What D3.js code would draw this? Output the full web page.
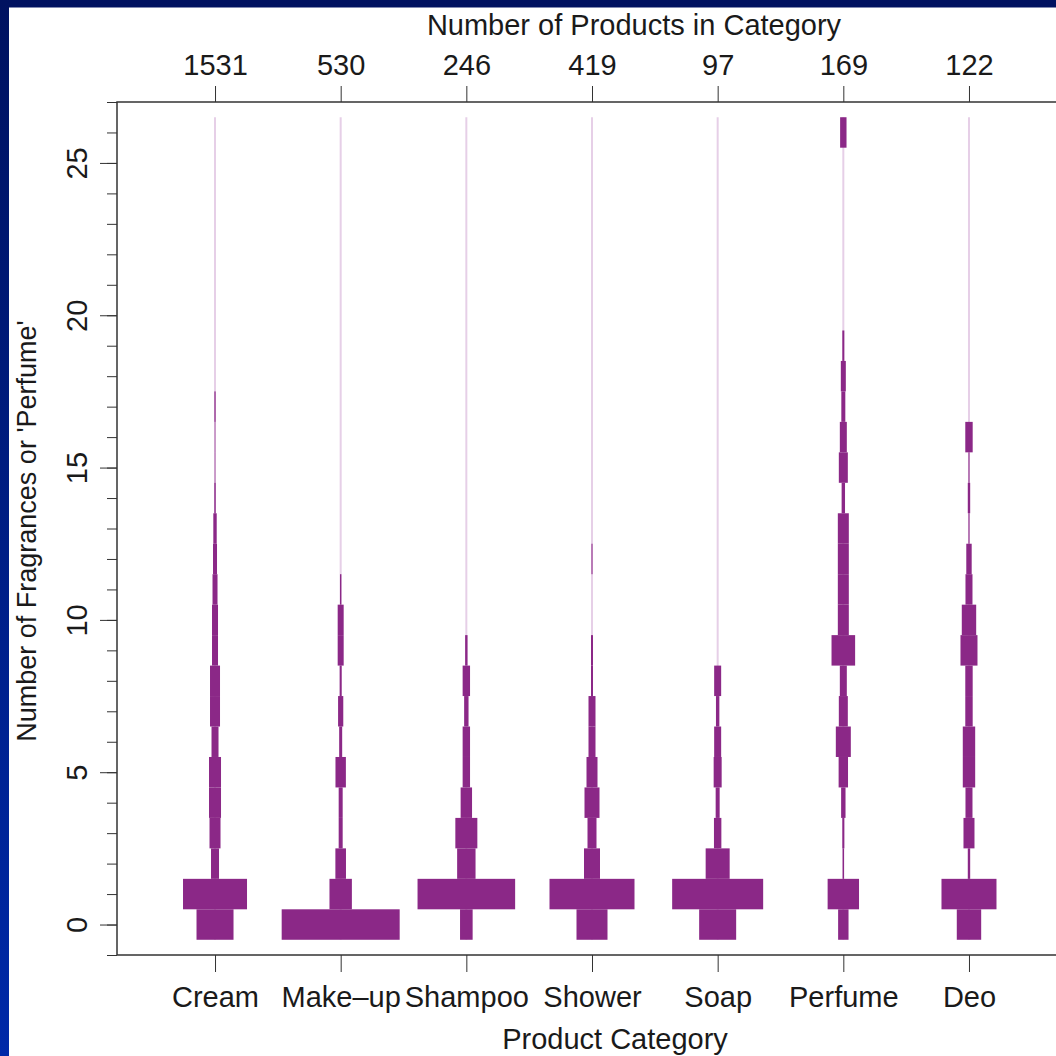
<!DOCTYPE html>
<html>
<head>
<meta charset="utf-8">
<script src="https://cdn.jsdelivr.net/npm/d3@7"></script>
<style>
  body { margin: 0; }
  svg text { font-family: "Liberation Sans", Arial, Helvetica, sans-serif; }
</style>
</head>
<body>
<div id="chart"></div>
<script>
// categories and the count of products in each
const categories = ["Cream", "Make\u2013up", "Shampoo", "Shower", "Soap", "Perfume", "Deo"];
const productCounts = [1531, 530, 246, 419, 97, 169, 122];

// % of products in the category with 0, 1, 2, ... fragrances (index = number of fragrances)
const creamShare   = [18.5, 32.0, 4.0, 5.5, 6.0, 6.0, 3.5, 5.0, 5.0, 3.0, 3.0, 2.5, 2.0, 1.7, 0.7, 0.3, 0.3, 0.6];
const makeupShare  = [59.0, 11.2, 5.3, 2.0, 2.0, 5.2, 1.5, 2.6, 1.0, 3.0, 3.0, 0.7];
const shampooShare = [6.3, 48.8, 9.2, 11.0, 5.7, 3.7, 3.7, 2.2, 3.7, 1.2];
const showerShare  = [15.5, 42.5, 8.0, 4.5, 7.5, 5.5, 3.5, 3.5, 1.0, 1.0, 0, 0, 0.5];
const soapShare    = [18.5, 45.5, 12.0, 3.7, 2.0, 4.0, 3.5, 1.7, 3.5];
const perfumeShare = [5.2, 15.7, 0.7, 1.0, 2.2, 4.7, 7.5, 4.5, 3.5, 11.8, 5.5, 5.5, 5.5, 5.5, 1.7, 4.5, 3.5, 2.0, 2.5, 1.0, 0, 0, 0, 0, 0, 0, 3.2];
const deoShare     = [12.2, 27.5, 1.2, 5.5, 3.5, 6.2, 6.2, 3.7, 3.7, 8.5, 7.2, 3.5, 2.7, 0.5, 1.2, 0.5, 3.7];

const yLabelTicks = [0, 5, 10, 15, 20, 25];
const maxFragrances = 26;

const shares = [creamShare, makeupShare, shampooShare, showerShare, soapShare, perfumeShare, deoShare];

const width = 1056, height = 1056;
const plot = {left: 117, top: 102, right: 1067, bottom: 955};
const fontSize = 29;
const purple = "#8b2887";
const textColor = "#1a1a1a";

let svg = d3.select("#chart")
  .append("svg")
  .attr("width", width)
  .attr("height", height);

// slide background + white page
let grad = svg.append("defs").append("linearGradient")
  .attr("id", "bg")
  .attr("x1", 0).attr("y1", 0).attr("x2", 0).attr("y2", 1);
grad.append("stop").attr("offset", "0%").attr("stop-color", "#001260");
grad.append("stop").attr("offset", "100%").attr("stop-color", "#0029a8");

svg.append("rect")
  .attr("width", width)
  .attr("height", height)
  .attr("fill", "url(#bg)");

svg.append("rect")
  .attr("x", 9)
  .attr("y", 7.5)
  .attr("width", width - 9)
  .attr("height", height - 7.5)
  .attr("fill", "white");

let x = d3.scaleLinear()
  .domain([0.22, categories.length + 0.78])
  .range([plot.left, plot.right]);

let y = d3.scaleLinear()
  .domain([-1, 27])
  .range([plot.bottom, plot.top]);

// bar width: share of products (%) -> px
let w = d3.scaleLinear()
  .domain([0, 100])
  .range([0, 200]);

let catPos = categories.map(function(c, i) { return i + 1; });

// faint spine behind each category
svg.append("g")
  .selectAll("line")
  .data(catPos)
  .enter()
  .append("line")
  .attr("x1", function(d) { return x(d); })
  .attr("x2", function(d) { return x(d); })
  .attr("y1", y(-0.5))
  .attr("y2", y(maxFragrances + 0.5))
  .attr("stroke", "#e6cfe7")
  .attr("stroke-width", 2);

let bars = [];
shares.forEach(function(arr, i) {
  arr.forEach(function(p, v) {
    if (p > 0) bars.push({pos: i + 1, value: v, share: p});
  });
});

svg.append("g")
  .selectAll("rect")
  .data(bars)
  .enter()
  .append("rect")
  .attr("x", function(d) { return x(d.pos) - w(d.share) / 2; })
  .attr("y", function(d) { return y(d.value + 0.5); })
  .attr("width", function(d) { return w(d.share); })
  .attr("height", function(d) { return y(d.value - 0.5) - y(d.value + 0.5); })
  .attr("fill", purple);

// axes
let axisColor = "#333";

let minorLeft = svg.append("g")
  .attr("transform", `translate(${plot.left},0)`)
  .attr("color", axisColor)
  .call(d3.axisLeft(y).tickValues(d3.range(-1, 28)).tickSize(10).tickFormat(""));
minorLeft.select(".domain").remove();

let majorLeft = svg.append("g")
  .attr("transform", `translate(${plot.left},0)`)
  .attr("color", axisColor)
  .call(d3.axisLeft(y).tickValues(yLabelTicks).tickSize(17));
majorLeft.select(".domain").remove();
majorLeft.selectAll("text")
  .attr("transform", "rotate(-90)")
  .attr("x", 0)
  .attr("y", -30)
  .attr("dy", "0")
  .attr("font-size", fontSize)
  .attr("fill", textColor)
  .style("text-anchor", "middle");

let topAxis = svg.append("g")
  .attr("transform", `translate(0,${plot.top})`)
  .attr("color", axisColor)
  .call(d3.axisTop(x).tickValues(catPos).tickSize(16).tickPadding(11)
    .tickFormat(function(d) { return productCounts[d - 1]; }));
topAxis.select(".domain").remove();
topAxis.selectAll("text").attr("font-size", fontSize).attr("fill", textColor);

let bottomAxis = svg.append("g")
  .attr("transform", `translate(0,${plot.bottom})`)
  .attr("color", axisColor)
  .call(d3.axisBottom(x).tickValues(catPos).tickSize(17).tickPadding(14)
    .tickFormat(function(d) { return categories[d - 1]; }));
bottomAxis.select(".domain").remove();
bottomAxis.selectAll("text").attr("font-size", fontSize).attr("fill", textColor);

// panel box
svg.append("rect")
  .attr("x", plot.left)
  .attr("y", plot.top)
  .attr("width", plot.right - plot.left)
  .attr("height", plot.bottom - plot.top)
  .attr("fill", "none")
  .attr("stroke", axisColor)
  .attr("stroke-width", 1.5);

// titles
svg.append("text")
  .attr("x", 634)
  .attr("y", 35)
  .style("text-anchor", "middle")
  .attr("font-size", fontSize)
  .attr("fill", textColor)
  .text("Number of Products in Category");

svg.append("text")
  .attr("x", 615)
  .attr("y", 1049)
  .style("text-anchor", "middle")
  .attr("font-size", fontSize)
  .attr("fill", textColor)
  .text("Product Category");

svg.append("text")
  .attr("transform", `translate(36, 531) rotate(-90)`)
  .style("text-anchor", "middle")
  .attr("font-size", 27)
  .attr("fill", textColor)
  .text("Number of Fragrances or 'Perfume'");
</script>
</body>
</html>
